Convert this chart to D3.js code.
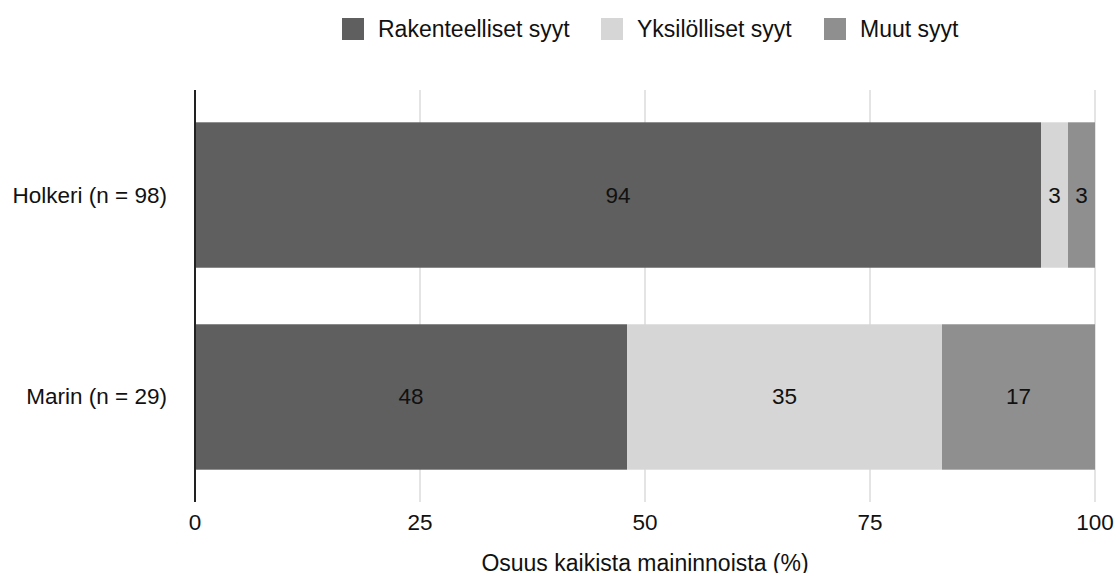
<!DOCTYPE html>
<html><head><meta charset="utf-8">
<script src="https://cdn.jsdelivr.net/npm/d3@7"></script>
<style>body{margin:0;background:#fff;} text{font-family:"Liberation Sans",Arial,sans-serif;}</style>
</head><body><svg id="c" width="1117" height="573"></svg>
<script>
const categories = ["Holkeri (n = 98)", "Marin (n = 29)"];
const seriesNames = ["Rakenteelliset syyt", "Yksilölliset syyt", "Muut syyt"];
const rakenteelliset = [94, 48];
const yksilolliset = [3, 35];
const muut = [3, 17];
const xTicks = [0, 25, 50, 75, 100];
const colors = ["#5f5f5f", "#d6d6d6", "#8f8f8f"];
const axisTitle = "Osuus kaikista maininnoista (%)";

const svg = d3.select("#c");
const m = {l:195, r:1095, t:90, b:502};
const x = d3.scaleLinear().domain([0,100]).range([m.l, m.r]);
const y = d3.scaleBand().domain(categories).range([m.t, m.b]).paddingInner(0.28).paddingOuter(0.16);
const FS = 22.5;

// grid
svg.append("g").selectAll("line").data(xTicks.slice(1)).join("line")
  .attr("x1", d=>x(d)).attr("x2", d=>x(d)).attr("y1", m.t).attr("y2", m.b)
  .attr("stroke", "#d2d2d2").attr("stroke-width", 1.2);

const stackData = categories.map((c,i)=>({cat:c, s0:rakenteelliset[i], s1:yksilolliset[i], s2:muut[i]}));
const stack = d3.stack().keys(["s0","s1","s2"])(stackData);

stack.forEach((layer, k) => {
  const g = svg.append("g");
  g.selectAll("rect").data(layer).join("rect")
    .attr("x", d=>x(d[0])).attr("width", d=>x(d[1])-x(d[0]))
    .attr("y", d=>y(d.data.cat)).attr("height", y.bandwidth())
    .attr("fill", colors[k]);
  g.selectAll("text").data(layer).join("text")
    .attr("x", d=>(x(d[0])+x(d[1]))/2).attr("y", d=>y(d.data.cat)+y.bandwidth()/2)
    .attr("text-anchor","middle").attr("dominant-baseline","central")
    .attr("font-size", FS).attr("fill","#111")
    .text(d=>d[1]-d[0]);
});

// y axis line
svg.append("line").attr("x1", m.l).attr("x2", m.l).attr("y1", m.t).attr("y2", m.b)
  .attr("stroke","#222").attr("stroke-width",2);

// category labels
svg.append("g").selectAll("text").data(categories).join("text")
  .attr("x", 167).attr("y", d=>y(d)+y.bandwidth()/2)
  .attr("text-anchor","end").attr("dominant-baseline","central")
  .attr("font-size", FS).attr("fill","#111").text(d=>d);

// x tick labels
svg.append("g").selectAll("text").data(xTicks).join("text")
  .attr("x", d=>x(d)).attr("y", 522)
  .attr("text-anchor","middle").attr("dominant-baseline","central")
  .attr("font-size", FS).attr("fill","#111").text(d=>d);

svg.append("text").attr("x", (m.l+m.r)/2).attr("y", 563)
  .attr("text-anchor","middle").attr("dominant-baseline","central")
  .attr("font-size", 23).attr("fill","#111").text(axisTitle);

// legend
const legX = [342, 601, 824];
const lg = svg.append("g");
seriesNames.forEach((n,i)=>{
  lg.append("rect").attr("x", legX[i]).attr("y", 18).attr("width", 22).attr("height", 22).attr("fill", colors[i]);
  lg.append("text").attr("x", legX[i]+36).attr("y", 29).attr("dominant-baseline","central")
    .attr("font-size", 23).attr("fill","#111").text(n);
});
</script></body></html>
